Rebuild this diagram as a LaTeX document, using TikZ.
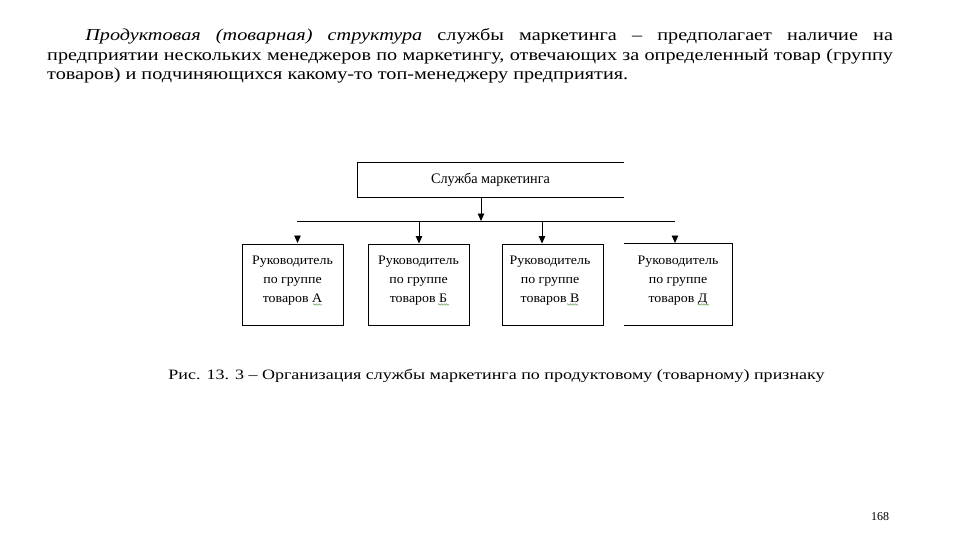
\documentclass[tikz,border=0pt]{standalone}
\usepackage{fontspec}
\setmainfont{Liberation Serif}
\usetikzlibrary{arrows.meta,decorations.pathmorphing}
\newcommand\sx[2]{\scalebox{#1}[1]{#2}}
\definecolor{wavy}{RGB}{110,160,90}
\begin{document}
\begin{tikzpicture}[x=1pt,y=-1pt,
  line/.style={line width=0.9pt,black},
  arr/.style={line width=0.9pt,black,-{Triangle[length=7.5pt,width=6.5pt]}},
  boxr/.style={draw,line width=0.9pt,minimum width=101pt,minimum height=81pt,inner sep=0pt},
  boxtext/.style={anchor=base,inner sep=0pt,font=\fontsize{13}{19}\selectfont},
  spell/.style={wavy,line width=0.5pt,decorate,decoration={snake,amplitude=0.8pt,segment length=2.6pt}}]
\useasboundingbox (0,0) rectangle (960,540);
\fill[white] (0,0) rectangle (960,540);

% paragraph
\node[anchor=base west,inner sep=0pt] (para) at (47,41) {\sx{1.21}{\parbox[t]{699pt}{\fontsize{16.7}{19.5}\selectfont\setlength\parindent{31.5pt}\indent\textit{Продуктовая (товарная) структура} службы маркетинга – предполагает наличие на\linebreak предприятии нескольких менеджеров по маркетингу, отвечающих за определенный товар (группу\linebreak товаров) и подчиняющихся какому-то топ-менеджеру предприятия.}}};

% top box (open on the right)
\node[minimum width=266pt,minimum height=34pt,inner sep=0pt] (top) at (491,180) {};
\node[anchor=base,inner sep=0pt,font=\fontsize{14.5}{16}\selectfont] (toptext) at (490.5,183.5) {\sx{0.98}{Служба маркетинга}};
\draw[line] (top.north east) -- (top.north west) -- (top.south west) -- (top.south east);

% bus
\coordinate (busL) at (297,221);
\coordinate (busR) at (675,221);
\coordinate (busM) at (481,221);
\draw[line] (busL) -- (busR);
\draw[arr] (top.south -| busM) -- (busM);

% boxes
\node[boxr] (b1) at (292.5,284.5) {};
\node[boxr] (b2) at (418.5,284.5) {};
\node[boxr] (b3) at (552.5,284.5) {};
\node[minimum width=108pt,minimum height=81pt,inner sep=0pt] (b4) at (678,284.5) {};
\draw[line] (b4.north west) -- (b4.north east) -- (b4.south east) -- (b4.south west);

\node[boxtext] (t1) at (292.5,264) {\sx{1.07}{\parbox[t]{90pt}{\centering Руководитель\\по группе\\товаров А}}};
\node[boxtext] (t2) at (418.5,264) {\sx{1.07}{\parbox[t]{90pt}{\centering Руководитель\\по группе\\товаров Б}}};
\node[boxtext] (t3) at (550,264) {\sx{1.07}{\parbox[t]{90pt}{\centering Руководитель\\по группе\\товаров В}}};
\node[boxtext] (t4) at (678,264) {\sx{1.07}{\parbox[t]{90pt}{\centering Руководитель\\по группе\\товаров Д}}};

% arrows to boxes
\draw[arr] (busM -| 419,0) -- (b2.north -| 419,0);
\draw[arr] (busM -| 542,0) -- (b3.north -| 542,0);
\coordinate (h1s) at (297.5,235.5);
\coordinate (h1e) at (297.5,243);
\coordinate (h4s) at (675,235.5);
\coordinate (h4e) at (675,243);
\draw[arr] (h1s) -- (h1e);
\draw[arr] (h4s) -- (h4e);

% spell-check squiggles
\draw[spell] (313,304.5) -- (322,304.5);
\draw[spell] (438,304.5) -- (449,304.5);
\draw[spell] (567,304.5) -- (578,304.5);
\draw[spell] (698,304.5) -- (709,304.5);

% caption
\node[anchor=base,inner sep=0pt] (cap) at (496.5,379.5) {\sx{1.26}{\fontsize{14.3}{17}\selectfont Рис. 13. 3 – Организация службы маркетинга по продуктовому (товарному) признаку}};

% page number
\node[anchor=base,inner sep=0pt] (page) at (880,520) {\fontsize{12}{14}\selectfont 168};
\end{tikzpicture}
\end{document}
